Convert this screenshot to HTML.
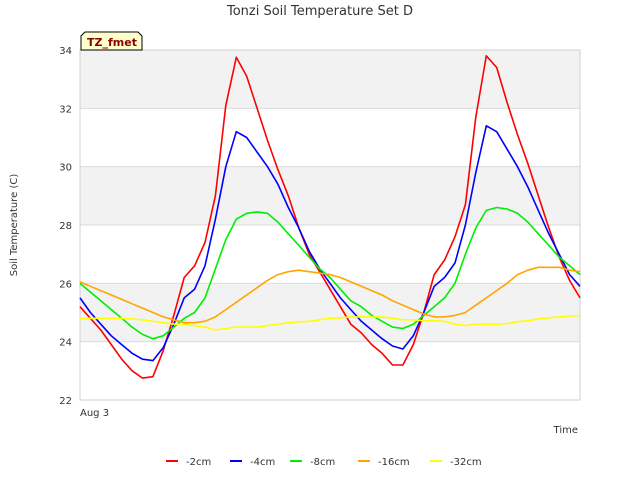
<!DOCTYPE html>
<html><head><meta charset="utf-8"><style>
body{margin:0;background:#fff;font-family:"Liberation Sans","DejaVu Sans",sans-serif}
svg text{font-family:"DejaVu Sans","Liberation Sans",sans-serif}
</style></head><body>
<svg id="chart" width="640" height="480" xmlns="http://www.w3.org/2000/svg">
<rect width="640" height="480" fill="#fff"/>
<g id="bands"></g>
<g id="grid"></g>
<rect x="80" y="50" width="500" height="350" fill="none" stroke="#d0d0d0"/>
<g id="yticks"></g>
<text x="80" y="416" font-size="10" fill="#333">Aug 3</text>
<text x="578" y="433" font-size="10" fill="#333" text-anchor="end">Time</text>
<text x="0" y="0" transform="translate(17,225) rotate(-90)" font-size="10" fill="#333" text-anchor="middle">Soil Temperature (C)</text>
<text x="320" y="15" font-size="13" fill="#333" text-anchor="middle">Tonzi Soil Temperature Set D</text>
<g id="series"></g>
<g>
<path d="M81,50 L81,36 L85,32 L138,32 L142,36 L142,50 Z" fill="#ffffcc" stroke="#000" stroke-width="1"/>
<text x="87" y="46" font-size="11" font-weight="bold" fill="#8b0000">TZ_fmet</text>
</g>
<g id="legend"></g>
</svg>
<script>
const hours=[0,1,2,3,4,5,6,7,8,9,10,11,12,13,14,15,16,17,18,19,20,21,22,23,24,25,26,27,28,29,30,31,32,33,34,35,36,37,38,39,40,41,42,43,44,45,46,47,48];
const d2cm=[25.2,24.8,24.4,23.9,23.4,23.0,22.75,22.8,23.7,24.9,26.2,26.6,27.4,29.0,32.1,33.75,33.1,32.0,30.9,29.9,29.0,27.9,27.0,26.4,25.8,25.2,24.6,24.3,23.9,23.6,23.2,23.2,23.9,25.0,26.3,26.8,27.6,28.7,31.7,33.8,33.4,32.2,31.1,30.1,29.0,27.9,26.9,26.1,25.5];
const d4cm=[25.5,25.0,24.6,24.2,23.9,23.6,23.4,23.35,23.8,24.6,25.5,25.8,26.6,28.2,30.0,31.2,31.0,30.5,30.0,29.4,28.6,27.9,27.1,26.5,26.0,25.5,25.1,24.7,24.4,24.1,23.85,23.75,24.2,25.0,25.9,26.2,26.7,28.0,29.8,31.4,31.2,30.6,30.0,29.3,28.5,27.7,27.0,26.3,25.9];
const d8cm=[26.0,25.7,25.4,25.1,24.8,24.5,24.25,24.1,24.2,24.5,24.8,25.0,25.5,26.5,27.5,28.2,28.4,28.45,28.4,28.1,27.7,27.3,26.9,26.5,26.2,25.8,25.4,25.2,24.9,24.7,24.5,24.45,24.6,24.9,25.2,25.5,26.0,27.0,27.9,28.5,28.6,28.55,28.4,28.1,27.7,27.3,26.9,26.6,26.3];
const d16cm=[26.05,25.9,25.75,25.6,25.45,25.3,25.15,25.0,24.85,24.75,24.65,24.65,24.7,24.85,25.1,25.35,25.6,25.85,26.1,26.3,26.4,26.45,26.4,26.35,26.3,26.2,26.05,25.9,25.75,25.6,25.4,25.25,25.1,24.95,24.85,24.85,24.9,25.0,25.25,25.5,25.75,26.0,26.3,26.45,26.55,26.55,26.55,26.45,26.4];
const d32cm=[24.8,24.8,24.8,24.8,24.8,24.78,24.75,24.7,24.65,24.6,24.6,24.55,24.5,24.4,24.45,24.5,24.5,24.5,24.55,24.6,24.65,24.68,24.7,24.75,24.8,24.82,24.85,24.85,24.85,24.85,24.8,24.75,24.75,24.72,24.72,24.7,24.6,24.55,24.6,24.6,24.6,24.62,24.68,24.72,24.78,24.82,24.85,24.88,24.9];
const seriesNames=["-2cm","-4cm","-8cm","-16cm","-32cm"];
const yTicks=[22,24,26,28,30,32,34];
const NS="http://www.w3.org/2000/svg";
const X=h=>80+h*500/48;
const Y=v=>400-(v-22)*350/12;
function mk(tag,parent){const e=document.createElementNS(NS,tag);parent.appendChild(e);return e;}
const bands=document.getElementById('bands'),grid=document.getElementById('grid'),yt=document.getElementById('yticks');
[[24,26],[28,30],[32,34]].forEach(b=>{const r=mk('rect',bands);r.setAttribute('x',80);r.setAttribute('y',Y(b[1]));r.setAttribute('width',500);r.setAttribute('height',Y(b[0])-Y(b[1]));r.setAttribute('fill','#f2f2f2');

});
yTicks.forEach(v=>{const l=mk('line',grid);l.setAttribute('x1',80);l.setAttribute('x2',580);l.setAttribute('y1',Y(v));l.setAttribute('y2',Y(v));l.setAttribute('stroke','#dcdcdc');


const t=mk('text',yt);t.setAttribute('x',72);t.setAttribute('y',Y(v)+4);t.setAttribute('font-size','10');t.setAttribute('fill','#333');t.setAttribute('text-anchor','end');t.textContent=v;

});
const colors=["#ff0000","#0000ff","#00ee00","#ffa500","#ffff00"];
const data=[d2cm,d4cm,d8cm,d16cm,d32cm];
const sg=document.getElementById('series');
data.forEach((arr,i)=>{const p=mk('polyline',sg);p.setAttribute('points',arr.map((v,j)=>X(hours[j]).toFixed(1)+','+Y(v).toFixed(1)).join(' '));p.setAttribute('fill','none');p.setAttribute('stroke',colors[i]);p.setAttribute('stroke-width','1.6');p.setAttribute('stroke-linejoin','round');

});
const lg=document.getElementById('legend');
const lx=[166,230,290,358,430];
seriesNames.forEach((n,i)=>{const g=mk('g',lg);


const l=mk('line',g);l.setAttribute('x1',lx[i]);l.setAttribute('x2',lx[i]+12);l.setAttribute('y1',461);l.setAttribute('y2',461);l.setAttribute('stroke',colors[i]);l.setAttribute('stroke-width','2');
const t=mk('text',g);t.setAttribute('x',lx[i]+20);t.setAttribute('y',465);t.setAttribute('font-size','10');t.setAttribute('fill','#333');t.textContent=n;});
</script>
</body></html>
